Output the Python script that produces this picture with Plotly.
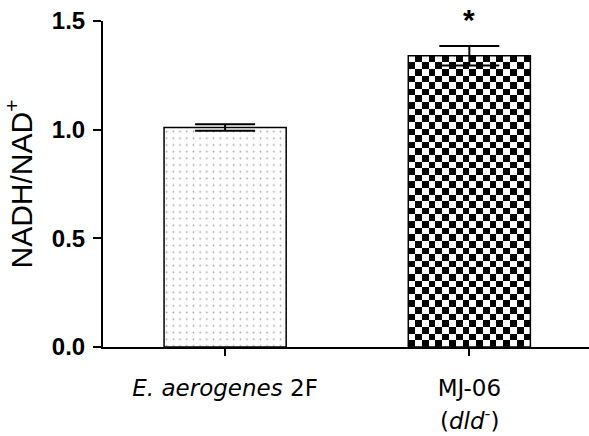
import numpy as np
import plotly.graph_objects as go

categories = ["<i>E. aerogenes</i> 2F", "MJ-06"]
sub_labels = ["", "(<i>dld</i><sup>-</sup>)"]
values = [1.01, 1.34]
errors = [0.015, 0.045]
significance = ["", "*"]
y_ticks = [0.0, 0.5, 1.0, 1.5]
y_ticktext = ["0.0", "0.5", "1.0", "1.5"]

pos = list(range(len(categories)))
bar_w = 0.5

fig = go.Figure()

# checkerboard fill for second bar (heatmap under the bar outline)
nx, ny = 18, 44
dx = bar_w / nx
dy = values[1] / ny
z = [[(i + j) % 2 for j in range(nx)] for i in range(ny)]
fig.add_trace(go.Heatmap(
    z=z, x0=pos[1] - bar_w / 2 + dx / 2, dx=dx, y0=dy / 2, dy=dy,
    colorscale=[[0, "#000000"], [1, "#ffffff"]], showscale=False,
    hoverinfo="skip", zsmooth=False,
))

fig.add_trace(go.Bar(
    x=pos, y=values, width=bar_w,
    marker=dict(
        color=["white", "rgba(0,0,0,0)"],
        line=dict(color="black", width=1.5),
        pattern=dict(shape=[".", ""], fgcolor="black", bgcolor=["white", "rgba(0,0,0,0)"],
                     size=6.7, solidity=0.05),
    ),
    error_y=dict(type="data", array=errors, visible=True, color="black",
                 thickness=2, width=30),
    showlegend=False,
))

annotations = []
for p, v, e, s in zip(pos, values, errors, significance):
    if s:
        annotations.append(dict(x=p, y=v + e, xref="x", yref="y", text="<b>" + s + "</b>",
                                showarrow=False, yanchor="bottom", yshift=8,
                                font=dict(family="Liberation Sans", size=30, color="black")))
for p, s in zip(pos, sub_labels):
    if s:
        annotations.append(dict(x=p, y=-0.222, xref="x", yref="paper", text=s,
                                showarrow=False, yanchor="middle",
                                font=dict(family="DejaVu Sans", size=23, color="black")))

fig.update_layout(
    width=589, height=436,
    margin=dict(l=103, r=0, t=21, b=89),
    plot_bgcolor="white", paper_bgcolor="white",
    annotations=annotations,
    xaxis=dict(
        range=[-0.5, 1.49], tickmode="array", tickvals=pos, ticktext=categories,
        showline=True, linecolor="black", linewidth=2,
        ticks="outside", ticklen=7, tickwidth=2, tickcolor="black",
        showgrid=False, zeroline=False, ticklabelstandoff=12,
        tickfont=dict(family="DejaVu Sans", size=23, color="black"),
    ),
    yaxis=dict(
        range=[0, 1.5], tickmode="array", tickvals=y_ticks, ticktext=y_ticktext,
        showline=True, linecolor="black", linewidth=2,
        ticks="outside", ticklen=8, tickwidth=2, tickcolor="black",
        showgrid=False, zeroline=False, ticklabelstandoff=3,
        tickfont=dict(family="Liberation Sans", size=24, color="black", weight="bold"),
        title=dict(text="NADH/NAD<sup>+</sup>", standoff=12,
                   font=dict(family="Liberation Sans", size=30, color="black")),
    ),
)

fig.write_html("out.html")
